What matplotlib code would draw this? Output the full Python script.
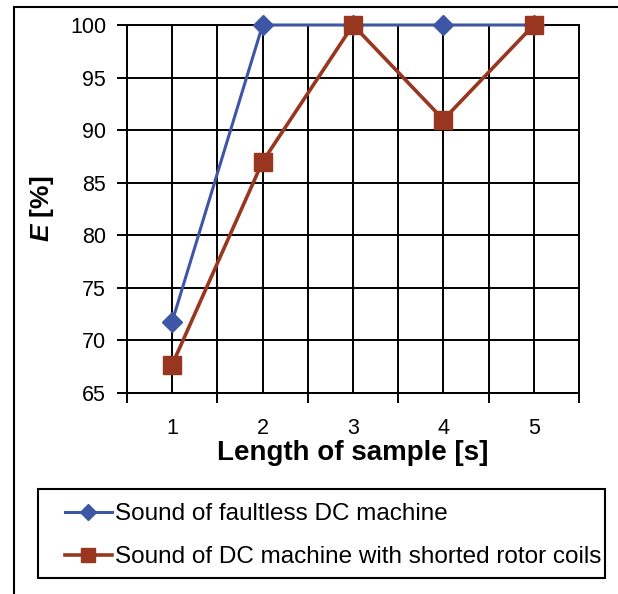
import numpy as np
import matplotlib
matplotlib.use('Agg')
import matplotlib.pyplot as plt
from matplotlib.lines import Line2D
from matplotlib.patches import Rectangle

plt.rcParams['font.family'] = ['Liberation Sans', 'DejaVu Sans']
plt.rcParams['mathtext.fontset'] = 'custom'
plt.rcParams['mathtext.bf'] = 'Liberation Sans:bold'
plt.rcParams['mathtext.it'] = 'Liberation Sans:italic'
plt.rcParams['mathtext.bfit'] = 'Liberation Sans:italic:bold'

# data
lengths = [1, 2, 3, 4, 5]
faultless = [71.8, 100, 100, 100, 100]
shorted = [67.7, 87, 100, 91, 100]
labels = ['Sound of faultless DC machine',
          'Sound of DC machine with shorted rotor coils']

blue = '#3D56A6'
red = '#983620'

W, H = 618, 594
fig = plt.figure(figsize=(W/100, H/100), dpi=100)
ax = fig.add_axes([127/W, 1-393/H, (579-127)/W, (393-25)/H])

ax.plot(lengths, faultless, color=blue, lw=2.2, marker='D', ms=10,
        mec=blue, mfc=blue, label=labels[0], zorder=3, clip_on=False)
ax.plot(lengths, shorted, color=red, lw=2.6, marker='s', ms=13,
        mec=red, mfc=red, label=labels[1], zorder=4, clip_on=False)

ax.set_xlim(0.5, 5.5)
ax.set_ylim(65, 100)
ax.set_xticks(np.arange(0.5, 5.6, 1))
ax.set_xticklabels([])
ax.set_xticks(lengths, minor=True)
ax.set_xticklabels([str(v) for v in lengths], minor=True)
ax.set_yticks(np.arange(65, 101, 5))
ax.tick_params(axis='x', which='major', direction='out', length=7, width=1.4)
ax.tick_params(axis='x', which='minor', length=0, labelsize=15.5, pad=18)
ax.tick_params(axis='y', direction='out', length=7, width=1.4, labelsize=15.5, pad=8)
ax.grid(True, which='both', axis='x', color='black', lw=1.4)
ax.grid(True, which='major', axis='y', color='black', lw=1.4)
for s in ax.spines.values():
    s.set_linewidth(1.4)
ax.set_axisbelow(True)

ax.set_xlabel('Length of sample [s]', fontsize=20, fontweight='bold')
ax.xaxis.set_label_coords(0.5, (393-440)/368)
ax.set_ylabel(r'$\mathbfit{E}$ [%]', fontsize=19, fontweight='bold')
ax.yaxis.set_label_coords((56-127)/452, 0.5)

# outer frame
fig.add_artist(Line2D([14/W, 14/W], [0, 1-7/H], color='black', lw=1.5,
                      transform=fig.transFigure))
fig.add_artist(Line2D([14/W, 1], [1-7/H, 1-7/H], color='black', lw=1.5,
                      transform=fig.transFigure))

# legend box
fig.add_artist(Rectangle((38/W, 1-578/H), (605-38)/W, (578-489)/H,
                         transform=fig.transFigure, fill=False,
                         edgecolor='black', lw=1.5))
fig.legend(loc='upper left', bbox_to_anchor=(65/W, 1-503/H),
           fontsize=17.5, frameon=False, handlelength=1.93, handletextpad=0.12,
           labelspacing=0.88, borderpad=0, borderaxespad=0, markerscale=0.8)

fig.savefig('out.png', dpi=100)
